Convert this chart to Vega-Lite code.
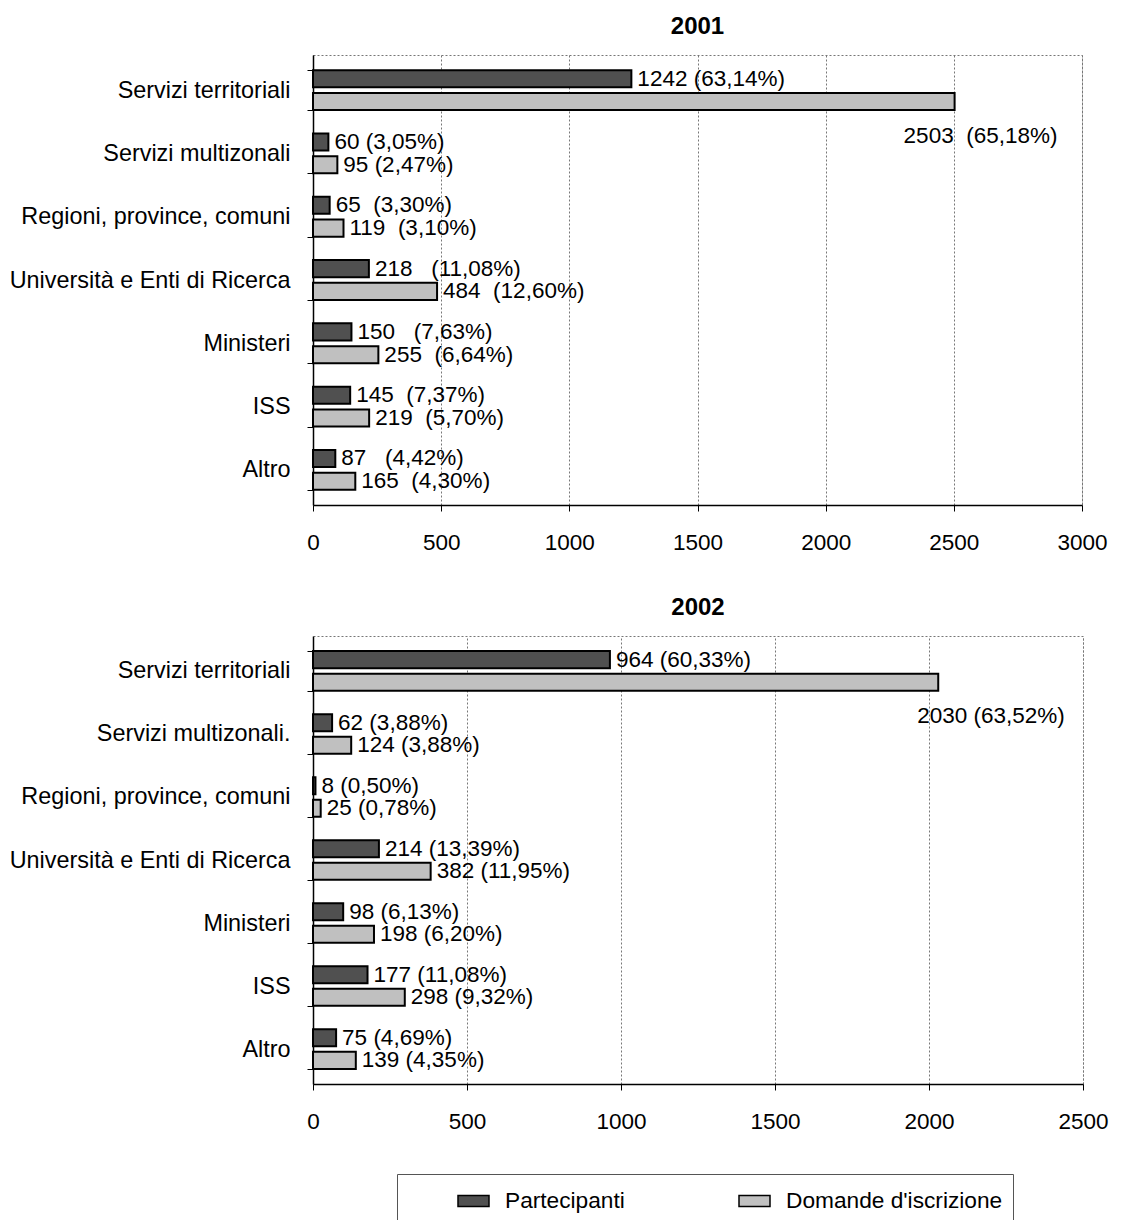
{
  "$schema": "https://vega.github.io/schema/vega-lite/v6.json",
  "background": "white",
  "padding": {"left": 8, "top": 14, "right": 5, "bottom": 5},
  "datasets": {
    "d": [
      {"year": 2001, "cat": "Servizi territoriali", "series": "Partecipanti", "value": 1242, "label": "1242 (63,14%)"},
      {"year": 2001, "cat": "Servizi territoriali", "series": "Domande d'iscrizione", "value": 2503, "label": "2503\u00a0 (65,18%)"},
      {"year": 2001, "cat": "Servizi multizonali", "series": "Partecipanti", "value": 60, "label": "60 (3,05%)"},
      {"year": 2001, "cat": "Servizi multizonali", "series": "Domande d'iscrizione", "value": 95, "label": "95 (2,47%)"},
      {"year": 2001, "cat": "Regioni, province, comuni", "series": "Partecipanti", "value": 65, "label": "65\u00a0 (3,30%)"},
      {"year": 2001, "cat": "Regioni, province, comuni", "series": "Domande d'iscrizione", "value": 119, "label": "119\u00a0 (3,10%)"},
      {"year": 2001, "cat": "Università e Enti di Ricerca", "series": "Partecipanti", "value": 218, "label": "218\u00a0\u00a0 (11,08%)"},
      {"year": 2001, "cat": "Università e Enti di Ricerca", "series": "Domande d'iscrizione", "value": 484, "label": "484\u00a0 (12,60%)"},
      {"year": 2001, "cat": "Ministeri", "series": "Partecipanti", "value": 150, "label": "150\u00a0\u00a0 (7,63%)"},
      {"year": 2001, "cat": "Ministeri", "series": "Domande d'iscrizione", "value": 255, "label": "255\u00a0 (6,64%)"},
      {"year": 2001, "cat": "ISS", "series": "Partecipanti", "value": 145, "label": "145\u00a0 (7,37%)"},
      {"year": 2001, "cat": "ISS", "series": "Domande d'iscrizione", "value": 219, "label": "219\u00a0 (5,70%)"},
      {"year": 2001, "cat": "Altro", "series": "Partecipanti", "value": 87, "label": "87\u00a0\u00a0 (4,42%)"},
      {"year": 2001, "cat": "Altro", "series": "Domande d'iscrizione", "value": 165, "label": "165\u00a0 (4,30%)"},
      {"year": 2002, "cat": "Servizi territoriali", "series": "Partecipanti", "value": 964, "label": "964 (60,33%)"},
      {"year": 2002, "cat": "Servizi territoriali", "series": "Domande d'iscrizione", "value": 2030, "label": "2030 (63,52%)"},
      {"year": 2002, "cat": "Servizi multizonali.", "series": "Partecipanti", "value": 62, "label": "62 (3,88%)"},
      {"year": 2002, "cat": "Servizi multizonali.", "series": "Domande d'iscrizione", "value": 124, "label": "124 (3,88%)"},
      {"year": 2002, "cat": "Regioni, province, comuni", "series": "Partecipanti", "value": 8, "label": "8 (0,50%)"},
      {"year": 2002, "cat": "Regioni, province, comuni", "series": "Domande d'iscrizione", "value": 25, "label": "25 (0,78%)"},
      {"year": 2002, "cat": "Università e Enti di Ricerca", "series": "Partecipanti", "value": 214, "label": "214 (13,39%)"},
      {"year": 2002, "cat": "Università e Enti di Ricerca", "series": "Domande d'iscrizione", "value": 382, "label": "382 (11,95%)"},
      {"year": 2002, "cat": "Ministeri", "series": "Partecipanti", "value": 98, "label": "98 (6,13%)"},
      {"year": 2002, "cat": "Ministeri", "series": "Domande d'iscrizione", "value": 198, "label": "198 (6,20%)"},
      {"year": 2002, "cat": "ISS", "series": "Partecipanti", "value": 177, "label": "177 (11,08%)"},
      {"year": 2002, "cat": "ISS", "series": "Domande d'iscrizione", "value": 298, "label": "298 (9,32%)"},
      {"year": 2002, "cat": "Altro", "series": "Partecipanti", "value": 75, "label": "75 (4,69%)"},
      {"year": 2002, "cat": "Altro", "series": "Domande d'iscrizione", "value": 139, "label": "139 (4,35%)"}
    ]
  },
  "config": {
    "font": "Liberation Sans",
    "view": {"stroke": "#777777", "strokeDash": [2, 2], "strokeWidth": 1},
    "axis": {"labelFont": "Liberation Sans", "labelFontSize": 22.5, "labelColor": "black", "labelLimit": 0, "labelFlush": false, "labelOverlap": false, "domainColor": "black", "domainWidth": 1.5, "tickColor": "black", "gridColor": "#777777", "gridDash": [2, 2], "gridWidth": 1, "title": null},
    "axisY": {"labelFontSize": 23.4},
    "title": {"fontSize": 24, "fontWeight": "bold", "font": "Liberation Sans", "color": "black", "offset": 4},
    "text": {"font": "Liberation Sans", "fontSize": 22.5, "color": "black"}
  },
  "spacing": 41,
  "resolve": {"scale": {"color": "independent", "x": "independent", "y": "independent", "yOffset": "independent"}},
  "vconcat": [
    {
      "title": "2001",
      "width": 769,
      "height": 450,
      "data": {"name": "d"},
      "transform": [{"filter": "datum.year == 2001"}],
      "encoding": {
        "y": {"field": "cat", "type": "nominal", "sort": null, "scale": {"paddingInner": 0.37, "paddingOuter": 0.24}, "axis": {"tickBand": "extent", "grid": false, "labelPadding": 17, "tickSize": 6}},
        "yOffset": {"field": "series", "type": "nominal", "sort": ["Partecipanti", "Domande d'iscrizione"], "scale": {"paddingInner": 0.25}},
        "x": {"field": "value", "type": "quantitative", "scale": {"domain": [0, 3000]}, "axis": {"values": [0, 500, 1000, 1500, 2000, 2500, 3000], "format": "d", "tickSize": 6, "labelPadding": 20, "grid": true}}
      },
      "layer": [
        {"mark": {"type": "bar", "stroke": "black", "strokeWidth": 2}, "encoding": {"color": {"field": "series", "type": "nominal", "scale": {"domain": ["Partecipanti", "Domande d'iscrizione"], "range": ["#505050", "#c0c0c0"]}, "legend": null}}},
        {"transform": [{"filter": "datum.value < 2000"}], "mark": {"type": "text", "align": "left", "baseline": "middle", "dx": 6}, "encoding": {"text": {"field": "label"}}},
        {"transform": [{"filter": "datum.value >= 2000"}], "mark": {"type": "text", "align": "left", "baseline": "middle", "dx": -51, "dy": 34}, "encoding": {"text": {"field": "label"}}}
      ]
    },
    {
      "title": "2002",
      "width": 770,
      "height": 448,
      "data": {"name": "d"},
      "transform": [{"filter": "datum.year == 2002"}],
      "encoding": {
        "y": {"field": "cat", "type": "nominal", "sort": null, "scale": {"paddingInner": 0.37, "paddingOuter": 0.24}, "axis": {"tickBand": "extent", "grid": false, "labelPadding": 17, "tickSize": 6}},
        "yOffset": {"field": "series", "type": "nominal", "sort": ["Partecipanti", "Domande d'iscrizione"], "scale": {"paddingInner": 0.25}},
        "x": {"field": "value", "type": "quantitative", "scale": {"domain": [0, 2500]}, "axis": {"values": [0, 500, 1000, 1500, 2000, 2500], "format": "d", "tickSize": 6, "labelPadding": 20, "grid": true}}
      },
      "layer": [
        {"mark": {"type": "bar", "stroke": "black", "strokeWidth": 2}, "encoding": {"color": {"field": "series", "type": "nominal", "sort": ["Partecipanti", "Domande d'iscrizione"], "scale": {"domain": ["Partecipanti", "Domande d'iscrizione"], "range": ["#505050", "#c0c0c0"]}, "legend": {"orient": "none", "legendX": 84, "legendY": 538, "direction": "horizontal", "title": null, "strokeColor": "#555555", "padding": 10, "symbolType": "M-1,-0.355H1V0.355H-1Z", "symbolSize": 961, "symbolStrokeColor": "black", "symbolStrokeWidth": 1.5, "symbolOpacity": 1, "labelFontSize": 22.7, "labelFont": "Liberation Sans", "labelColor": "black", "labelOffset": 15, "symbolOffset": 50, "columnPadding": 63, "labelLimit": 400}}}},
        {"transform": [{"filter": "datum.value < 2000"}], "mark": {"type": "text", "align": "left", "baseline": "middle", "dx": 6}, "encoding": {"text": {"field": "label"}}},
        {"transform": [{"filter": "datum.value >= 2000"}], "mark": {"type": "text", "align": "left", "baseline": "middle", "dx": -21, "dy": 34}, "encoding": {"text": {"field": "label"}}}
      ]
    }
  ]
}
